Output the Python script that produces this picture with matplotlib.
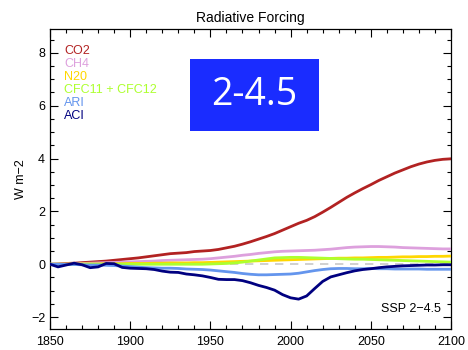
import numpy as np
import matplotlib
matplotlib.use("Agg")
import matplotlib.pyplot as plt
from matplotlib.ticker import MultipleLocator

plt.rcParams['font.family'] = ['Liberation Sans', 'DejaVu Sans']

years = np.arange(1850, 2101, 5)

co2 = [0.00, 0.01, 0.03, 0.04, 0.06, 0.08, 0.10, 0.12, 0.15, 0.18,
       0.21, 0.24, 0.28, 0.32, 0.36, 0.40, 0.42, 0.44, 0.48, 0.50,
       0.52, 0.56, 0.62, 0.68, 0.76, 0.85, 0.95, 1.05, 1.16, 1.29,
       1.42, 1.55, 1.66, 1.80, 1.97, 2.15, 2.34, 2.53, 2.70, 2.86,
       3.01, 3.17, 3.31, 3.45, 3.57, 3.69, 3.79, 3.87, 3.93, 3.97,
       3.99]
ch4 = [0.00, 0.00, 0.01, 0.02, 0.03, 0.04, 0.05, 0.06, 0.07, 0.08,
       0.09, 0.10, 0.11, 0.12, 0.14, 0.15, 0.16, 0.17, 0.18, 0.19,
       0.21, 0.24, 0.27, 0.30, 0.34, 0.37, 0.41, 0.44, 0.47, 0.49,
       0.50, 0.51, 0.52, 0.53, 0.55, 0.57, 0.60, 0.63, 0.65, 0.66,
       0.67, 0.67, 0.66, 0.65, 0.63, 0.62, 0.61, 0.60, 0.59, 0.58,
       0.58]
n2o = [0.00, 0.00, 0.00, 0.01, 0.01, 0.01, 0.01, 0.02, 0.02, 0.02,
       0.03, 0.03, 0.03, 0.04, 0.04, 0.05, 0.05, 0.05, 0.06, 0.06,
       0.07, 0.08, 0.09, 0.10, 0.11, 0.12, 0.13, 0.14, 0.15, 0.16,
       0.17, 0.18, 0.19, 0.20, 0.21, 0.22, 0.23, 0.23, 0.24, 0.24,
       0.25, 0.26, 0.26, 0.27, 0.28, 0.28, 0.29, 0.29, 0.30, 0.30,
       0.31]
cfc = [0.00, 0.00, 0.00, 0.00, 0.00, 0.00, 0.00, 0.00, 0.00, 0.00,
       0.00, 0.00, 0.00, 0.00, 0.00, 0.00, 0.00, 0.00, 0.00, 0.00,
       0.01, 0.02, 0.03, 0.05, 0.08, 0.12, 0.16, 0.20, 0.24, 0.25,
       0.26, 0.26, 0.25, 0.24, 0.23, 0.22, 0.21, 0.20, 0.19, 0.19,
       0.18, 0.17, 0.16, 0.15, 0.14, 0.13, 0.12, 0.11, 0.10, 0.09,
       0.08]
ari = [0.00, 0.00, -0.01, -0.01, -0.02, -0.03, -0.03, -0.04, -0.05, -0.07,
       -0.09, -0.11, -0.13, -0.14, -0.15, -0.15, -0.16, -0.18, -0.19, -0.20,
       -0.22, -0.25, -0.28, -0.31, -0.35, -0.38, -0.40, -0.40, -0.39, -0.38,
       -0.37, -0.34, -0.29, -0.24, -0.20, -0.17, -0.16, -0.16, -0.17, -0.17,
       -0.16, -0.17, -0.17, -0.18, -0.18, -0.18, -0.18, -0.19, -0.19, -0.19,
       -0.19]
aci = [0.00, -0.10, -0.03, 0.04, -0.02, -0.13, -0.10, 0.03, 0.02, -0.12,
       -0.15, -0.16, -0.17, -0.20, -0.26, -0.30, -0.31, -0.37, -0.40, -0.44,
       -0.50, -0.57, -0.58, -0.58, -0.62, -0.70, -0.80, -0.88, -0.98, -1.15,
       -1.27, -1.32, -1.20, -0.92, -0.65, -0.48, -0.40, -0.32, -0.25, -0.20,
       -0.17, -0.13, -0.10, -0.08, -0.06, -0.05, -0.04, -0.03, -0.03, -0.02,
       -0.02]

names = ["CO2", "CH4", "N20", "CFC11 + CFC12", "ARI", "ACI"]
series = [co2, ch4, n2o, cfc, ari, aci]
colors = ["#b22222", "#dda0dd", "#ffd700", "#adff2f", "#6495ed", "#000080"]

fig = plt.figure(figsize=(4.68, 3.5), dpi=100)
ax = fig.add_axes([50 / 468, 1 - 329 / 350, 401 / 468, 300 / 350])

ax.plot([1850, 2100], [0, 0], color="#c8c8c8", lw=1.2, ls=(0, (5, 4)), zorder=1)

# draw in reverse so the greenhouse gases sit above the aerosols
draw_order = [5, 4, 1, 3, 2, 0]
for i in draw_order:
    ax.plot(years, series[i], color=colors[i], lw=2.0, zorder=2 + i,
            solid_capstyle="round")

ax.set_xlim(1850, 2100)
ax.set_ylim(-2.45, 8.9)
ax.xaxis.set_major_locator(MultipleLocator(50))
ax.xaxis.set_minor_locator(MultipleLocator(10))
ax.yaxis.set_major_locator(MultipleLocator(2))
ax.yaxis.set_minor_locator(MultipleLocator(0.5))
ax.tick_params(which="both", direction="in", top=True, right=True,
               labelsize=9, width=0.8)
ax.tick_params(which="major", length=6)
ax.tick_params(which="minor", length=3)
ax.tick_params(axis="x", pad=5)
for s in ax.spines.values():
    s.set_linewidth(0.9)

ax.set_title("Radiative Forcing", fontsize=10, pad=5)
ax.set_ylabel("W m\u22122", fontsize=9, labelpad=3)

# series key, placed in pixel coordinates measured from the top edge
for k, (name, c) in enumerate(zip(names, colors)):
    fig.text(64 / 468, 1 - (50.7 + 13 * k) / 350, name, color=c,
             fontsize=9, va="center", ha="left")

box_ax = fig.add_axes([190 / 468, 1 - 131 / 350, 129 / 468, 72 / 350])
box_ax.set_facecolor("#1a2cff")
box_ax.set_xticks([])
box_ax.set_yticks([])
for s in box_ax.spines.values():
    s.set_visible(False)
box_ax.text(0.5, 0.5, "2-4.5", color="white", fontsize=27,
            family=["Open Sans", "DejaVu Sans"], ha="center", va="center",
            transform=box_ax.transAxes)

ax.text(0.975, 0.065, "SSP 2\u22124.5", transform=ax.transAxes, fontsize=9,
        ha="right", va="center")

fig.savefig("out.png", dpi=100)
